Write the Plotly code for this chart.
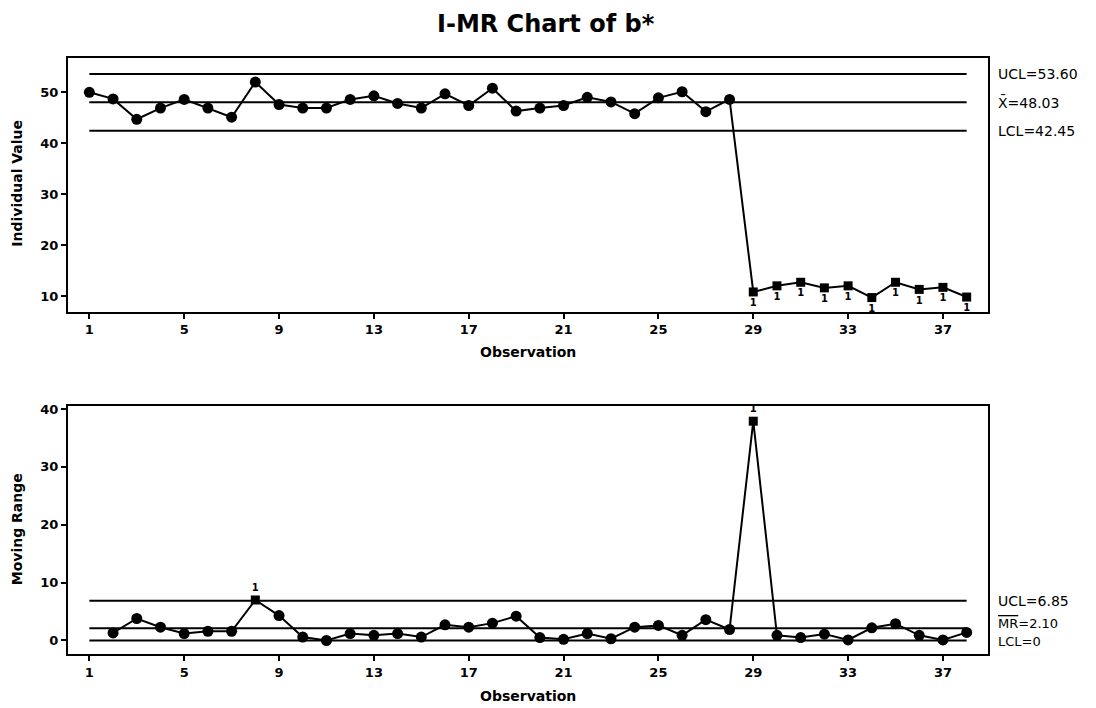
import plotly.graph_objects as go

# ---- data ----
obs = list(range(1, 39))
individual = [50.0, 48.7, 44.7, 46.9, 48.6, 46.9, 45.1, 52.0, 47.6, 46.9,
              46.9, 48.6, 49.3, 47.8, 46.9, 49.7, 47.4, 50.8, 46.3, 46.9,
              47.4, 49.0, 48.1, 45.8, 48.9, 50.1, 46.2, 48.6, 10.8, 12.0,
              12.7, 11.6, 12.0, 9.7, 12.7, 11.3, 11.7, 9.8]
mr_obs = list(range(2, 39))
moving_range = [1.3, 3.8, 2.3, 1.2, 1.6, 1.6, 7.0, 4.3, 0.6, 0.0,
                1.2, 0.9, 1.2, 0.6, 2.7, 2.3, 3.0, 4.2, 0.5, 0.2,
                1.2, 0.3, 2.3, 2.6, 0.9, 3.6, 1.9, 37.9, 0.9, 0.5,
                1.1, 0.1, 2.2, 2.9, 0.9, 0.1, 1.4]
i_flagged = list(range(29, 39))
mr_flagged = [8, 29]
i_limits = {"UCL": 53.60, "X": 48.03, "LCL": 42.45}
mr_limits = {"UCL": 6.85, "MR": 2.10, "LCL": 0.0}
x_ticks = [1, 5, 9, 13, 17, 21, 25, 29, 33, 37]
i_yticks = [10, 20, 30, 40, 50]
mr_yticks = [0, 10, 20, 30, 40]

FONT = "DejaVu Sans"
fig = go.Figure()

def add_chart(xs, ys, flagged, limits, xa, ya, label_pos):
    # control lines
    for v in limits.values():
        fig.add_trace(go.Scatter(x=[1, 38], y=[v, v], mode="lines",
                                 line=dict(color="black", width=2),
                                 xaxis=xa, yaxis=ya, hoverinfo="skip"))
    # data line
    fig.add_trace(go.Scatter(x=xs, y=ys, mode="lines",
                             line=dict(color="black", width=2),
                             xaxis=xa, yaxis=ya))
    nx = [x for x in xs if x not in flagged]
    ny = [y for x, y in zip(xs, ys) if x not in flagged]
    fx = [x for x in xs if x in flagged]
    fy = [y for x, y in zip(xs, ys) if x in flagged]
    fig.add_trace(go.Scatter(x=nx, y=ny, mode="markers",
                             marker=dict(symbol="circle", size=11, color="black"),
                             xaxis=xa, yaxis=ya))
    fig.add_trace(go.Scatter(x=fx, y=fy, mode="markers+text",
                             marker=dict(symbol="square", size=9, color="black"),
                             text=["1"] * len(fx), textposition=label_pos,
                             textfont=dict(family=FONT, size=10, color="black", weight="bold"),
                             xaxis=xa, yaxis=ya, cliponaxis=False))

add_chart(obs, individual, i_flagged, i_limits, "x", "y", "bottom center")
add_chart(mr_obs, moving_range, mr_flagged, mr_limits, "x2", "y2", "top center")

axis_common = dict(showline=True, linecolor="black", linewidth=2, mirror=True,
                   ticks="outside", ticklen=5, tickwidth=1.5, tickcolor="black",
                   showgrid=False, zeroline=False,
                   tickfont=dict(family=FONT, size=13, color="black", weight="bold"))

x_dom = [68 / 1096, 988 / 1096]
fig.update_layout(
    width=1096, height=708,
    margin=dict(l=0, r=0, t=0, b=0),
    paper_bgcolor="white", plot_bgcolor="white",
    showlegend=False,
    xaxis=dict(domain=x_dom, range=[0.1, 38.9], tickvals=x_ticks, anchor="y", **axis_common),
    yaxis=dict(domain=[1 - 309 / 708, 1 - 53 / 708], range=[6.9, 56.8], tickvals=i_yticks,
               anchor="x", **axis_common),
    xaxis2=dict(domain=x_dom, range=[0.1, 38.9], tickvals=x_ticks, anchor="y2", **axis_common),
    yaxis2=dict(domain=[1 - 654 / 708, 1 - 404 / 708], range=[-2.4, 40.5], tickvals=mr_yticks,
                anchor="x2", **axis_common),
)

ann = []
ann.append(dict(text="<b>I-MR Chart of b*</b>", x=546 / 1096, y=1 - 19 / 708, xref="paper", yref="paper",
                showarrow=False, font=dict(family=FONT, size=24, color="black"),
                xanchor="center", yanchor="middle"))
# axis titles
for yy in [349, 696]:
    ann.append(dict(text="<b>Observation</b>", x=528 / 1096, y=1 - yy / 708, xref="paper", yref="paper",
                    showarrow=False, font=dict(family=FONT, size=14, color="black"),
                    xanchor="center", yanchor="middle"))
ann.append(dict(text="<b>Individual Value</b>", x=17 / 1096, y=1 - 180 / 708, xref="paper", yref="paper",
                showarrow=False, textangle=-90, font=dict(family=FONT, size=14, color="black"),
                xanchor="center", yanchor="middle"))
ann.append(dict(text="<b>Moving Range</b>", x=17 / 1096, y=1 - 528 / 708, xref="paper", yref="paper",
                showarrow=False, textangle=-90, font=dict(family=FONT, size=14, color="black"),
                xanchor="center", yanchor="middle"))
# limit labels
lab_x = 996 / 1096
lab_font = dict(family=FONT, size=14, color="black")
small_font = dict(family=FONT, size=13, color="black")
ann.append(dict(text="UCL=%.2f" % i_limits["UCL"], x=lab_x, y=i_limits["UCL"], xref="paper", yref="y",
                showarrow=False, font=lab_font, xanchor="left", yanchor="middle"))
ann.append(dict(text="X\u0304=%.2f" % i_limits["X"], x=lab_x, y=i_limits["X"], xref="paper", yref="y",
                showarrow=False, font=lab_font, xanchor="left", yanchor="middle"))
ann.append(dict(text="LCL=%.2f" % i_limits["LCL"], x=lab_x, y=i_limits["LCL"], xref="paper", yref="y",
                showarrow=False, font=lab_font, xanchor="left", yanchor="middle"))
ann.append(dict(text="UCL=%.2f" % mr_limits["UCL"], x=lab_x, y=mr_limits["UCL"], xref="paper", yref="y2",
                showarrow=False, font=lab_font, xanchor="left", yanchor="middle"))
ann.append(dict(text="<span style='text-decoration:overline'>MR</span>=%.2f" % mr_limits["MR"],
                x=lab_x, y=mr_limits["MR"], xref="paper", yref="y2",
                showarrow=False, font=small_font, xanchor="left", yanchor="middle", yshift=5))
ann.append(dict(text="LCL=%d" % mr_limits["LCL"], x=lab_x, y=mr_limits["LCL"], xref="paper", yref="y2",
                showarrow=False, font=small_font, xanchor="left", yanchor="middle", yshift=-1))
fig.update_layout(annotations=ann)

fig.write_html("out.html")
